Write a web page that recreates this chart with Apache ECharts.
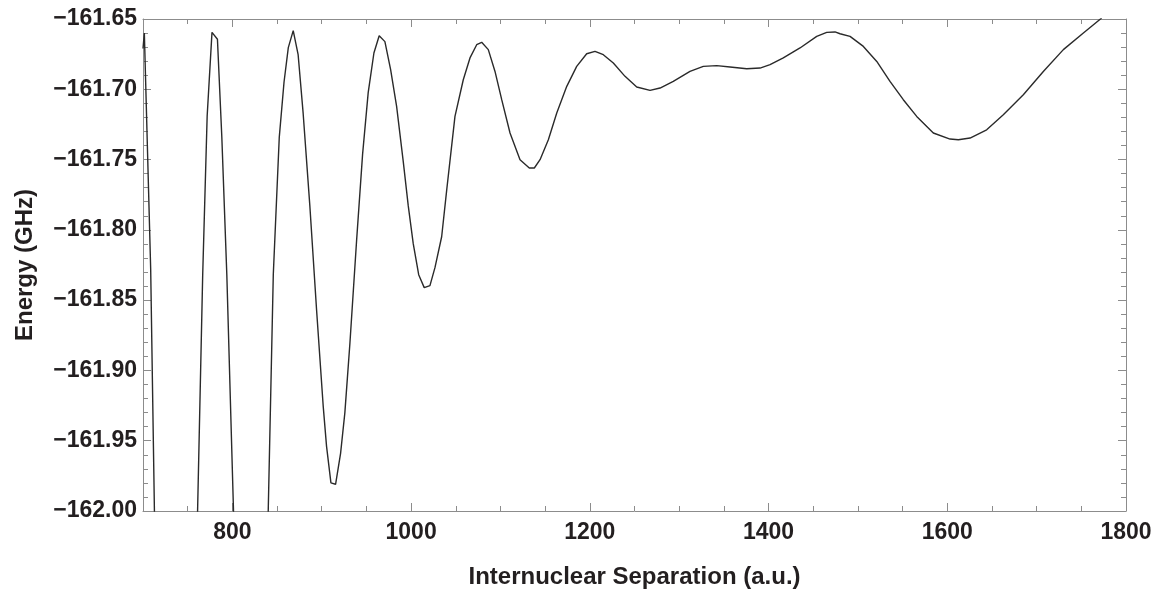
<!DOCTYPE html>
<html>
<head>
<meta charset="utf-8">
<title>Energy vs Internuclear Separation</title>
<script src="https://cdn.jsdelivr.net/npm/echarts@6/dist/echarts.min.js"></script>
<style>
  html, body { margin: 0; padding: 0; background: #fff; }
  #chart { width: 1155px; height: 592px; }
</style>
</head>
<body>
<div id="chart"></div>
<script>
// internuclear separation (a.u.)
const separation = [
  700, 701.5, 708.6, 714, 722, 732, 745, 757, 766.8, 771.8,
  777.2, 783.3, 788.2, 793.8, 801.2, 808, 816, 826, 834, 840.2,
  845.8, 852.5, 857.8, 862.6, 868.1, 873.6, 879.2, 886.7, 894.2, 901.6,
  905.4, 910.3, 915.5, 921.1, 925.9, 931.5, 939, 945.7, 952, 958.4,
  964.3, 970.7, 977.1, 983.8, 991.2, 996.8, 1002.4, 1008.5, 1014.7, 1021.1,
  1026.7, 1034.2, 1039.9, 1049.1, 1058.4, 1065.9, 1073.4, 1079, 1086.4, 1093.9,
  1101.4, 1110.7, 1121.9, 1132.3, 1137.9, 1144.3, 1153.6, 1163, 1174.2, 1185.3,
  1196.5, 1205.8, 1215.1, 1226.3, 1239.4, 1252.5, 1267.4, 1278.6, 1293.4, 1312.1,
  1327, 1342, 1356.9, 1375.6, 1390.5, 1401.7, 1416.5, 1435.2, 1453.9, 1465.1,
  1474.4, 1480, 1491.2, 1506.1, 1521.1, 1535.9, 1550.8, 1565.8, 1584.4, 1603.1,
  1612.4, 1625.5, 1644.1, 1662.7, 1685.1, 1707.5, 1729.9, 1752.3, 1772.8
];
// energy (GHz)
const energy = [
  -161.671, -161.660, -161.828, -162.05, -162.3, -162.45, -162.45, -162.12, -161.832, -161.719,
  -161.6595, -161.6644, -161.734, -161.832, -161.998, -162.2, -162.35, -162.38, -162.2, -161.998,
  -161.832, -161.734, -161.695, -161.6704, -161.6583, -161.6754, -161.717, -161.7828, -161.8567, -161.925,
  -161.954, -161.980, -161.981, -161.959, -161.930, -161.881, -161.8077, -161.7465, -161.7024, -161.6742,
  -161.6619, -161.6661, -161.686, -161.7121, -161.7513, -161.7828, -161.8098, -161.8319, -161.8411, -161.8397,
  -161.8269, -161.8049, -161.7714, -161.7193, -161.6932, -161.6777, -161.6683, -161.6666, -161.6718, -161.6873,
  -161.7074, -161.7311, -161.7501, -161.756, -161.756, -161.7501, -161.7359, -161.7169, -161.6979, -161.6837,
  -161.6747, -161.673, -161.6754, -161.6813, -161.6908, -161.6984, -161.7008, -161.6991, -161.6944, -161.6873,
  -161.6837, -161.6832, -161.6841, -161.6854, -161.6849, -161.6825, -161.6777, -161.6706, -161.6624, -161.6595,
  -161.6592, -161.6605, -161.6624, -161.6695, -161.6802, -161.6944, -161.7074, -161.7193, -161.7311, -161.7354,
  -161.7359, -161.7347, -161.7288, -161.7181, -161.7039, -161.6873, -161.6718, -161.66, -161.6493
];
// labelled ticks on the x axis
const xMajorTicks = [800, 1000, 1200, 1400, 1600, 1800];

const axisGray = "#8c8c8c";
const textColor = "#231f20";
const font = "'Liberation Sans', Arial, sans-serif";

// major x axis (labels + long ticks) and a helper axis for the short ticks
function xAxisPair(pos, withLabels) {
  return [
    {
      type: "value",
      position: pos,
      min: 700,
      max: 1800,
      name: withLabels ? "Internuclear Separation (a.u.)" : "",
      nameLocation: "middle",
      nameGap: 54,
      nameTextStyle: { color: textColor, fontFamily: font, fontWeight: "bold", fontSize: 24 },
      axisLine: { show: true, lineStyle: { color: axisGray, width: 1 } },
      axisTick: { show: true, inside: true, length: 8, customValues: xMajorTicks, lineStyle: { color: axisGray } },
      axisLabel: {
        show: withLabels,
        customValues: xMajorTicks,
        margin: 10,
        color: textColor,
        fontFamily: font,
        fontWeight: "bold",
        fontSize: 23,
        formatter: (v) => String(v),
      },
      splitLine: { show: false },
    },
    {
      type: "value",
      position: pos,
      min: 700,
      max: 1800,
      interval: 50,
      axisLine: { show: false },
      axisTick: { show: true, inside: true, length: 5, lineStyle: { color: axisGray } },
      axisLabel: { show: false },
      splitLine: { show: false },
    },
  ];
}

function yAxisFor(pos, withLabels) {
  return {
    type: "value",
    position: pos,
    min: -162,
    max: -161.65,
    interval: 0.05,
    name: withLabels ? "Energy (GHz)" : "",
    nameLocation: "middle",
    nameGap: 106,
    nameTextStyle: { color: textColor, fontFamily: font, fontWeight: "bold", fontSize: 24 },
    axisLine: { show: true, lineStyle: { color: axisGray, width: 1 } },
    axisTick: { show: true, inside: true, length: 8, lineStyle: { color: axisGray } },
    minorTick: { show: true, splitNumber: 5, length: 5, lineStyle: { color: axisGray } },
    axisLabel: {
      show: withLabels,
      margin: 6,
      color: textColor,
      fontFamily: font,
      fontWeight: "bold",
      fontSize: 23,
      formatter: (v) => (v < 0 ? "\u2212" : "") + Math.abs(v).toFixed(2),
    },
    splitLine: { show: false },
    minorSplitLine: { show: false },
  };
}

const chart = echarts.init(document.getElementById("chart"));
chart.setOption({
  animation: false,
  backgroundColor: "#fff",
  grid: { left: 143, right: 29, top: 19, bottom: 81, outerBoundsMode: "none" },
  xAxis: [...xAxisPair("bottom", true), ...xAxisPair("top", false)],
  yAxis: [yAxisFor("left", true), yAxisFor("right", false)],
  series: [
    {
      type: "line",
      xAxisIndex: 0,
      yAxisIndex: 0,
      data: separation.map((x, i) => [x, energy[i]]),
      showSymbol: false,
      symbol: "none",
      clip: true,
      lineStyle: { color: "#2a2a2a", width: 1.4 },
    },
  ],
});
</script>
</body>
</html>
